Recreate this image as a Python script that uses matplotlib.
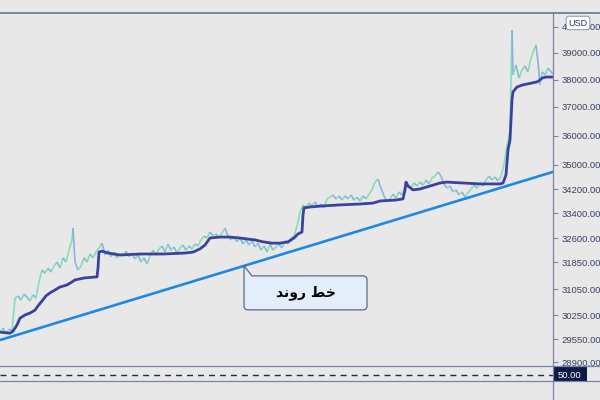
"""
Price chart with moving average, trend line and callout (TradingView-like look).
"""

import numpy as np
import matplotlib
matplotlib.use("Agg")
import matplotlib.pyplot as plt
from matplotlib.collections import LineCollection
from matplotlib.path import Path
from matplotlib.patches import PathPatch, Rectangle
from matplotlib.lines import Line2D

# ── Data ───────────────────────────────────────────────────────────────────────
price_bar = [
    0, 3, 6, 9, 12, 15, 18, 21, 24, 27, 30, 33, 36, 39, 42, 45, 48, 51, 54, 57,
    60, 63, 66, 69, 72, 73, 75, 78, 81, 84, 87, 90, 93, 96, 99, 102, 105, 108,
    111, 114, 117, 120, 123, 126, 129, 132, 135, 138, 141, 144, 147, 150, 153,
    156, 159, 162, 165, 168, 171, 174, 177, 180, 183, 186, 189, 192, 195, 198,
    201, 204, 207, 210, 213, 216, 219, 222, 225, 228, 231, 234, 237, 240, 243,
    246, 249, 252, 255, 258, 261, 264, 267, 270, 273, 276, 279, 282, 285, 288,
    291, 294, 297, 300, 303, 306, 309, 312, 315, 318, 321, 324, 327, 330, 333,
    336, 339, 342, 345, 348, 351, 354, 357, 360, 363, 366, 369, 372, 375, 378,
    381, 384, 387, 390, 393, 396, 399, 402, 405, 408, 411, 414, 417, 420, 423,
    426, 429, 432, 435, 438, 441, 444, 447, 450, 453, 456, 459, 462, 465, 468,
    471, 474, 477, 480, 483, 486, 489, 492, 495, 498, 501, 504, 507, 510, 512,
    513, 516, 519, 522, 525, 528, 531, 534, 536, 538, 540, 542, 545, 548, 551, 553,
]
price = [
    29750, 29870, 29700, 29840, 29780, 30770, 30840, 30710, 30900, 30800,
    30680, 30870, 30770, 31260, 31610, 31520, 31670, 31550, 31730, 31850,
    31670, 31980, 31850, 32220, 32540, 32920, 31850, 31610, 31730, 31980,
    31850, 32100, 31980, 32160, 32290, 32440, 32070, 32220, 32010, 32160,
    31980, 32100, 32040, 32190, 32010, 32130, 31940, 32070, 31850, 31980,
    31790, 32040, 32220, 32070, 32260, 32350, 32160, 32410, 32220, 32320,
    32130, 32290, 32380, 32220, 32350, 32260, 32410, 32350, 32540, 32660,
    32600, 32790, 32660, 32730, 32600, 32760, 32920, 32660, 32540, 32630,
    32480, 32600, 32410, 32540, 32380, 32510, 32320, 32440, 32220, 32350,
    32160, 32410, 32220, 32320, 32410, 32290, 32510, 32410, 32600, 32660,
    32980, 33430, 33670, 33570, 33730, 33630, 33770, 33600, 33700, 33570,
    33870, 33930, 34000, 33870, 33970, 33830, 33970, 33870, 34000, 33830,
    33930, 33800, 33970, 33870, 34030, 34170, 34430, 34530, 34230, 33970,
    33770, 33870, 34030, 33900, 34100, 34000, 34300, 34330, 34230, 34400,
    34300, 34430, 34330, 34500, 34370, 34570, 34630, 34770, 34630, 34370,
    34230, 34300, 34100, 34170, 34000, 34100, 33930, 34070, 34200, 34330,
    34230, 34400, 34300, 34500, 34630, 34500, 34600, 34470, 34630, 35000,
    35690, 36140, 39880, 38190, 38560, 38070, 38370, 38520, 38300, 38810,
    39120, 39310, 38670, 37820, 38300, 38190, 38440, 38300, 38220,
]

ma_bar = [
    0, 10, 13, 17, 20, 25, 30, 35, 38, 42, 46, 50, 55, 60, 67, 72, 75, 80, 85,
    97, 98, 99, 102, 108, 120, 140, 163, 185, 193, 200, 205, 210, 220, 230,
    240, 247, 255, 263, 272, 280, 288, 294, 298, 302, 303, 304, 310, 320, 340,
    360, 373, 380, 395, 403, 405, 406, 408, 413, 420, 430, 440, 447, 463, 480,
    500, 503, 506, 508, 510, 511, 512, 513, 517, 522, 527, 532, 537, 540, 542,
    546, 553,
]
ma = [
    29750, 29720, 29780, 29960, 30160, 30250, 30310, 30400, 30530, 30680,
    30840, 30930, 31020, 31110, 31170, 31260, 31320, 31350, 31380, 31410,
    31670, 32160, 32190, 32130, 32070, 32100, 32100, 32130, 32160, 32260,
    32380, 32600, 32630, 32630, 32600, 32570, 32540, 32480, 32440, 32440,
    32480, 32600, 32730, 32790, 33340, 33570, 33600, 33630, 33670, 33700,
    33730, 33800, 33830, 33870, 34170, 34430, 34300, 34170, 34200, 34300,
    34400, 34430, 34400, 34370, 34370, 34400, 34670, 35520, 35860, 36550,
    37260, 37560, 37740, 37810, 37850, 37890, 37930, 38000, 38070, 38110,
    38110,
]

trend_bar = [0, 553]
trend = [29520, 34770]

tick_values = [28900, 29550, 30250, 31050, 31850, 32600, 33400,
               34200, 35000, 36000, 37000, 38000, 39000, 40000]
# the price axis is not linear: row of each label (px from top of the chart)
tick_rows = [362, 339, 315, 289, 262, 238, 213, 189, 165, 136, 107, 80, 53, 27]

callout_text = "\ufeaa\ufee7\ufeed\ufead \ufec2\ufea7"   # خط روند (shaped)
rsi_level = 50

# ── Colours ────────────────────────────────────────────────────────────────────
bg = "#e8e8e8"
frame = "#7a86a0"
up_col = "#78dcb0"
down_col = "#82ace2"
ma_col = "#3a41a0"
trend_col = "#1e88e5"
label_col = "#39416a"

# ── Price scale ────────────────────────────────────────────────────────────────
anchor_vals = np.array([27000] + tick_values + [42000], dtype=float)
anchor_pos = -np.array([429] + tick_rows + [-25], dtype=float)


def fwd(v):
    return np.interp(v, anchor_vals, anchor_pos)


def inv(p):
    return np.interp(p, anchor_pos, anchor_vals)


W, H = 600, 400
fig = plt.figure(figsize=(6, 4), dpi=100, facecolor=bg)
x_right = 553 / W
ax = fig.add_axes([0, 1 - 366 / H, x_right, (366 - 13) / H])
ax2 = fig.add_axes([0, 1 - 381 / H, x_right, 15 / H])
for a in (ax, ax2):
    a.set_facecolor(bg)
    for s in a.spines.values():
        s.set_visible(False)

ax.set_yscale("function", functions=(fwd, inv))
ax.set_xlim(0, 553)
ax.set_ylim(28787, 40538)

# price line, coloured by direction
pts = np.column_stack([price_bar, price])
segs = np.stack([pts[:-1], pts[1:]], axis=1)
cols = [up_col if b >= a else down_col for a, b in zip(price[:-1], price[1:])]
ax.add_collection(LineCollection(segs, colors=cols, linewidths=1.2, alpha=0.9, zorder=2))

ax.plot(ma_bar, ma, color=ma_col, lw=2.0, zorder=3, solid_capstyle="round")
ax.plot(trend_bar, trend, color=trend_col, lw=1.9, zorder=4)

ax.set_xticks([])
ax.yaxis.tick_right()
ax.set_yticks(tick_values)
ax.set_yticklabels([f"{v:.2f}" for v in tick_values], family="Liberation Sans")
ax.tick_params(axis="y", length=3.5, width=0.8, color=frame,
               labelcolor=label_col, labelsize=6.8, pad=2.5)
ax.minorticks_off()

# ── Callout pointing at the trend line ─────────────────────────────────────────
p0 = ax.transData.transform((trend_bar[0], trend[0]))
p1 = ax.transData.transform((trend_bar[1], trend[1]))
tip = p0 + (p1 - p0) * (244 - trend_bar[0]) / (trend_bar[1] - trend_bar[0])
tx, ty = tip
bw, top, bot, r, notch = 123, 10, 44, 4, 8
verts = [
    (tx, ty), (tx, ty - bot + r), (tx, ty - bot), (tx + r, ty - bot),
    (tx + bw - r, ty - bot), (tx + bw, ty - bot), (tx + bw, ty - bot + r),
    (tx + bw, ty - top - r), (tx + bw, ty - top), (tx + bw - r, ty - top),
    (tx + notch, ty - top), (tx, ty),
]
codes = [Path.MOVETO, Path.LINETO, Path.CURVE3, Path.CURVE3,
         Path.LINETO, Path.CURVE3, Path.CURVE3,
         Path.LINETO, Path.CURVE3, Path.CURVE3,
         Path.LINETO, Path.CLOSEPOLY]
callout = PathPatch(Path(verts, codes), facecolor="#e4eefa", edgecolor="#5b6a8c",
                    lw=0.9, transform=matplotlib.transforms.IdentityTransform(),
                    zorder=5)
ax.add_patch(callout)
fig.text((tx + bw / 2) / W, (ty - (top + bot) / 2) / H, callout_text,
         ha="center", va="center", fontsize=10, fontweight="bold",
         color="black", family=["DejaVu Sans"], zorder=6)

# ── Lower pane (RSI level) ─────────────────────────────────────────────────────
ax2.set_xlim(0, 553)
ax2.set_ylim(44, 59)
ax2.set_xticks([])
ax2.set_yticks([])
ax2.axhline(rsi_level, color="#1b2a56", lw=1.0, ls=(0, (4.3, 3.6)))
ax2.add_patch(Rectangle((1.0, 0.03), 34 / 553, 0.97, transform=ax2.transAxes,
                        facecolor="#0c1a46", edgecolor="none", clip_on=False))
ax2.text(1.0 + 5 / 553, rsi_level, f"{rsi_level:.2f}",
         transform=ax2.get_yaxis_transform(), ha="left", va="center",
         color="white", fontsize=6.8, family="Liberation Sans", clip_on=False)

# ── Frame lines ────────────────────────────────────────────────────────────────
fig.add_artist(Line2D([0, 1], [1 - 13 / H] * 2, color=frame, lw=1.4))
fig.add_artist(Line2D([0, 1], [1 - 366 / H] * 2, color=frame, lw=0.9))
fig.add_artist(Line2D([0, 1], [1 - 381 / H] * 2, color=frame, lw=0.9))
fig.add_artist(Line2D([x_right] * 2, [0, 1 - 13 / H], color=frame, lw=0.9))

# currency tag (sits over the top price label, as in the source)
fig.text(578 / W, 1 - 23 / H, "USD", ha="center", va="center", fontsize=6.5,
         color="#2a3560", family="Liberation Sans", zorder=10,
         bbox=dict(boxstyle="round,pad=0.25,rounding_size=0.3",
                   facecolor="white", edgecolor="#8a94aa", lw=0.7))

fig.savefig("out.png", dpi=100, facecolor=bg)
